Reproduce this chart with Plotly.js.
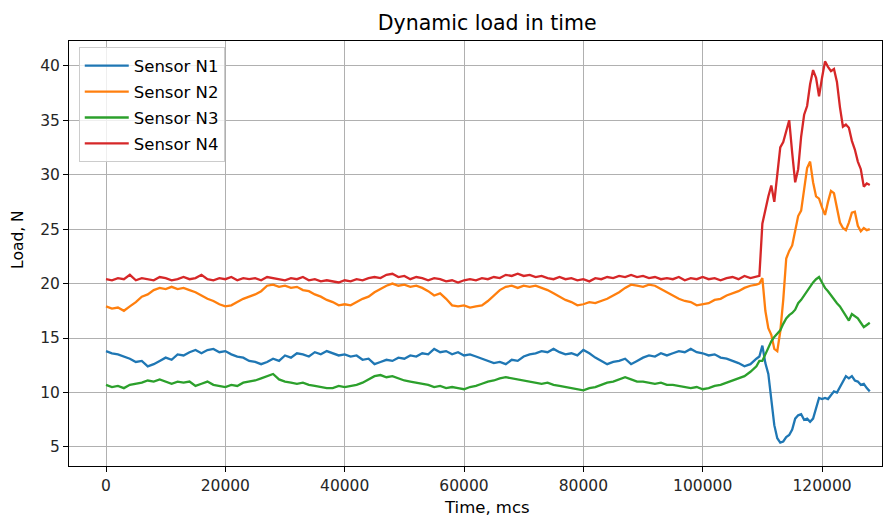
<!DOCTYPE html>
<html>
<head>
<meta charset="utf-8">
<script src="https://cdn.plot.ly/plotly-3.0.1.min.js"></script>
<style>html,body{margin:0;padding:0;background:#fff;}#chart{width:894px;height:517px;}</style>
</head>
<body>
<div id="chart"></div>
<script>
// Time base, mcs
const timeMcs = [
0,1000,2000,3000,4000,5000,6000,7000,8000,9000,
10000,11000,12000,13000,14000,15000,16000,17000,18000,19000,
20000,21000,22000,23000,24000,25000,26000,27000,28000,29000,
30000,31000,32000,33000,34000,35000,36000,37000,38000,39000,
40000,41000,42000,43000,44000,45000,46000,47000,48000,49000,
50000,51000,52000,53000,54000,55000,56000,57000,58000,59000,
60000,61000,62000,63000,64000,65000,66000,67000,68000,69000,
70000,71000,72000,73000,74000,75000,76000,77000,78000,79000,
80000,81000,82000,83000,84000,85000,86000,87000,88000,89000,
90000,91000,92000,93000,94000,95000,96000,97000,98000,99000,
100000,101000,102000,103000,104000,105000,106000,107000,108000,109000,
109500,110000,110500,111000,111500,112000,112500,113000,113500,114000,
114500,115000,115500,116000,116500,117000,117500,118000,118500,119000,
119500,120000,120500,121000,121500,122000,122500,123000,123500,124000,
124500,125000,125500,126000,126500,127000,127500,128000
];

const sensorN1 = [
13.8,13.6,13.5,13.3,13.1,12.8,12.9,12.4,12.6,12.9,
13.2,13.0,13.5,13.4,13.7,13.9,13.6,13.9,14.0,13.7,
13.8,13.5,13.3,13.2,12.9,12.8,12.6,12.8,13.1,12.9,
13.4,13.2,13.6,13.5,13.3,13.7,13.5,13.8,13.6,13.4,
13.5,13.3,13.4,13.0,13.1,12.6,12.8,13.0,12.9,13.2,
13.1,13.4,13.3,13.6,13.5,14.0,13.7,13.8,13.5,13.7,
13.4,13.5,13.3,13.1,12.9,12.7,12.8,12.6,13.0,12.9,
13.3,13.5,13.6,13.8,13.7,14.0,13.7,13.5,13.6,13.4,
13.9,13.6,13.2,12.9,12.6,12.8,12.9,13.1,12.6,12.9,
13.2,13.4,13.3,13.6,13.4,13.6,13.8,13.7,14.0,13.7,
13.6,13.4,13.5,13.2,13.1,12.9,12.7,12.4,12.6,13.1,
13.3,14.3,12.7,11.7,9.6,7.0,5.8,5.4,5.5,5.9,
6.1,6.6,7.6,7.9,8.0,7.5,7.6,7.3,7.6,8.6,
9.5,9.4,9.5,9.4,9.7,10.1,10.0,10.5,11.0,11.5,
11.3,11.5,11.1,11.0,10.7,10.8,10.4,10.1
];

const sensorN2 = [
17.9,17.7,17.8,17.5,17.9,18.3,18.8,19.0,19.4,19.6,
19.5,19.7,19.5,19.6,19.4,19.2,18.9,18.6,18.4,18.1,
17.9,18.0,18.3,18.6,18.8,19.0,19.3,19.8,19.9,19.7,
19.8,19.6,19.7,19.4,19.3,19.0,18.8,18.5,18.3,18.0,
18.1,18.0,18.3,18.6,18.8,19.2,19.5,19.8,20.0,19.8,
19.9,19.7,19.8,19.6,19.3,18.9,19.1,18.6,18.0,17.9,
18.0,17.8,17.9,18.0,18.4,18.9,19.4,19.7,19.8,19.6,
19.8,19.7,19.8,19.6,19.4,19.1,18.8,18.5,18.3,18.0,
18.1,18.3,18.2,18.4,18.6,18.9,19.2,19.6,19.9,19.8,
19.7,19.9,19.8,19.5,19.2,18.9,18.6,18.4,18.3,18.0,
18.1,18.2,18.5,18.6,18.9,19.1,19.3,19.6,19.8,19.9,
20.0,20.5,17.5,15.9,15.3,14.0,13.8,15.6,18.5,22.3,
23.0,23.5,24.9,26.2,26.7,28.5,30.6,31.2,29.3,28.0,
27.8,27.0,26.3,27.5,28.5,28.3,26.8,25.6,25.1,24.9,
25.6,26.5,26.6,25.3,24.8,25.1,24.9,25.0
];

const sensorN3 = [
10.7,10.5,10.6,10.4,10.7,10.8,10.9,11.1,11.0,11.2,
11.0,10.8,11.0,10.9,11.0,10.6,10.8,11.0,10.7,10.6,
10.5,10.7,10.6,10.9,11.0,11.1,11.3,11.5,11.7,11.2,
11.0,10.9,10.8,10.9,10.7,10.6,10.5,10.4,10.4,10.6,
10.5,10.6,10.7,10.9,11.2,11.5,11.6,11.4,11.5,11.3,
11.1,11.0,10.9,10.8,10.7,10.5,10.6,10.4,10.5,10.4,
10.3,10.5,10.6,10.8,11.0,11.1,11.3,11.4,11.3,11.2,
11.1,11.0,10.9,10.8,10.9,10.7,10.6,10.5,10.4,10.3,
10.2,10.4,10.5,10.7,10.9,11.0,11.2,11.4,11.2,11.0,
11.0,10.9,10.8,10.9,10.7,10.7,10.6,10.5,10.4,10.5,
10.3,10.4,10.6,10.7,10.9,11.1,11.3,11.5,11.9,12.4,
12.9,12.9,13.5,14.1,14.7,15.1,15.4,15.7,16.3,16.8,
17.1,17.3,17.6,18.2,18.5,18.9,19.4,19.8,20.1,20.4,
20.6,20.1,19.6,19.3,18.9,18.6,18.2,17.9,17.5,17.1,
16.6,17.2,17.0,16.8,16.4,16.0,16.2,16.4
];

const sensorN4 = [
20.4,20.3,20.5,20.4,20.8,20.3,20.5,20.4,20.3,20.6,
20.5,20.3,20.4,20.6,20.4,20.5,20.8,20.4,20.3,20.5,
20.4,20.6,20.3,20.5,20.4,20.5,20.3,20.6,20.5,20.4,
20.3,20.5,20.4,20.6,20.3,20.4,20.2,20.3,20.2,20.1,
20.3,20.2,20.4,20.3,20.5,20.6,20.5,20.8,20.9,20.6,
20.7,20.4,20.6,20.5,20.3,20.5,20.4,20.2,20.3,20.1,
20.3,20.4,20.3,20.5,20.4,20.6,20.5,20.8,20.7,20.9,
20.7,20.8,20.6,20.7,20.5,20.4,20.6,20.4,20.5,20.3,
20.4,20.2,20.5,20.4,20.6,20.5,20.7,20.6,20.8,20.6,
20.7,20.5,20.6,20.4,20.5,20.4,20.6,20.3,20.5,20.4,
20.6,20.4,20.5,20.3,20.5,20.6,20.4,20.7,20.5,20.6,
20.7,25.5,26.8,28.0,29.0,27.5,30.0,32.5,33.0,34.0,
35.0,32.0,29.3,30.5,33.5,35.5,36.3,38.3,39.6,38.9,
37.2,38.9,40.4,39.9,39.5,39.7,38.5,36.2,34.4,34.6,
34.3,33.1,32.3,31.2,30.5,28.9,29.2,29.05
];

const seriesNames = ["Sensor N1", "Sensor N2", "Sensor N3", "Sensor N4"];
const seriesColors = ["#1f77b4", "#ff7f0e", "#2ca02c", "#d62728"];
const xTickVals = [0, 20000, 40000, 60000, 80000, 100000, 120000];
const xTickText = ["0", "20000", "40000", "60000", "80000", "100000", "120000"];

const allSeries = [sensorN1, sensorN2, sensorN3, sensorN4];
const font = "DejaVu Sans, Liberation Sans, sans-serif";

const traces = allSeries.map((ys, i) => ({
  type: "scatter",
  mode: "lines",
  x: timeMcs,
  y: ys,
  name: seriesNames[i],
  legendgroup: "g" + i,
  line: {color: seriesColors[i], width: 2.3}
}));

const layout = {
  width: 894,
  height: 517,
  margin: {l: 69, r: 12, t: 41, b: 51, pad: 0},
  paper_bgcolor: "#ffffff",
  plot_bgcolor: "#ffffff",
  font: {family: font, size: 15.5, color: "#262626"},
  title: {text: "Dynamic load in time", x: 0.545, xref: "container", xanchor: "center", y: 0.955, yref: "container", yanchor: "middle", font: {family: font, size: 20.5, color: "#000"}},
  xaxis: {
    range: [-6200, 130050],
    tickvals: xTickVals,
    ticktext: xTickText,
    showgrid: true, gridcolor: "#b0b0b0", gridwidth: 1,
    zeroline: false,
    showline: true, linecolor: "#000", linewidth: 1, mirror: true,
    ticks: "outside", ticklen: 5, tickcolor: "#000", tickwidth: 1,
    tickfont: {family: font, size: 15.5, color: "#262626"}
  },
  yaxis: {
    range: [3.25, 42.27],
    tick0: 5, dtick: 5,
    showgrid: true, gridcolor: "#b0b0b0", gridwidth: 1,
    zeroline: false,
    showline: true, linecolor: "#000", linewidth: 1, mirror: true,
    ticks: "outside", ticklen: 5, tickcolor: "#000", tickwidth: 1,
    tickfont: {family: font, size: 15.5, color: "#262626"}
  },
  annotations: [
    {text: "Time, mcs", xref: "paper", yref: "paper", x: 0.514, y: -0.0988, xanchor: "center", yanchor: "middle", showarrow: false, font: {family: font, size: 16.5, color: "#000"}},
    {text: "Load, N", xref: "paper", yref: "paper", x: -0.0627, y: 0.532, xanchor: "center", yanchor: "middle", textangle: -90, showarrow: false, font: {family: font, size: 15.5, color: "#000"}}
  ],
  legend: {
    x: 0.012, y: 0.985, xanchor: "left", yanchor: "top",
    bgcolor: "rgba(255,255,255,0.8)", bordercolor: "#cccccc", borderwidth: 1,
    font: {family: font, size: 16.5, color: "#000"},
    tracegroupgap: 1.5, itemwidth: 44
  },
  showlegend: true
};

Plotly.newPlot("chart", traces, layout, {displayModeBar: false, staticPlot: true});
</script>
</body>
</html>
